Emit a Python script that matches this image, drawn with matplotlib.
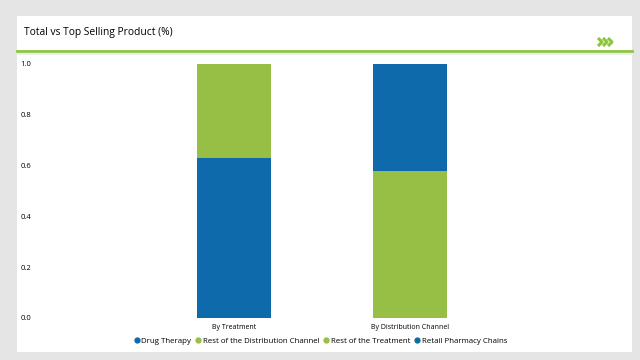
import matplotlib.pyplot as plt
from matplotlib.patches import Rectangle
from matplotlib.lines import Line2D

plt.rcParams['font.family'] = ['Open Sans', 'DejaVu Sans']

categories = ['By Treatment', 'By Distribution Channel']
series = ['Drug Therapy', 'Rest of the Distribution Channel', 'Rest of the Treatment', 'Retail Pharmacy Chains']
values = {
    'Drug Therapy': [0.63, 0.0],
    'Rest of the Distribution Channel': [0.0, 0.58],
    'Rest of the Treatment': [0.37, 0.0],
    'Retail Pharmacy Chains': [0.0, 0.42],
}
yticks = [0.0, 0.2, 0.4, 0.6, 0.8, 1.0]

blue = '#0f6aab'
green = '#98bf45'
colors = {'Drug Therapy': blue, 'Rest of the Distribution Channel': green,
          'Rest of the Treatment': green, 'Retail Pharmacy Chains': blue}

W, H = 640, 360
fig = plt.figure(figsize=(6.4, 3.6), dpi=100, facecolor='#e5e5e5')

def px(x, y, w, h):
    return (x / W, 1 - (y + h) / H, w / W, h / H)

# white card
fig.patches.append(Rectangle((17 / W, 1 - 352 / H), 615 / W, 336 / H,
                             transform=fig.transFigure, facecolor='white', edgecolor='none', zorder=-5))
# header rule
fig.add_artist(Line2D([17 / W, 632 / W], [1 - 51 / H, 1 - 51 / H], color='#8cc63f', lw=2,
                      transform=fig.transFigure))
fig.add_artist(Line2D([17 / W, 632 / W], [1 - 53.5 / H, 1 - 53.5 / H], color='#ececec', lw=1.5,
                      transform=fig.transFigure))
fig.text(24 / W, 1 - 32 / H, 'Total vs Top Selling Product (%)', fontsize=7.4, va='center', ha='left')
# chevrons
for i in range(3):
    x0 = 598 + i * 5
    fig.add_artist(Line2D([x0 / W, (x0 + 4) / W, x0 / W],
                          [1 - 38 / H, 1 - 42 / H, 1 - 46 / H],
                          color='#8cc63f', lw=2.2, transform=fig.transFigure, solid_capstyle='butt'))

ax = fig.add_axes(px(40, 64, 580, 254))
ax.set_facecolor('none')
xs = list(range(len(categories)))
bottom = [0.0] * len(categories)
for s in series:
    ax.bar(xs, values[s], 0.426, bottom=bottom, color=colors[s], label=s)
    bottom = [b + v for b, v in zip(bottom, values[s])]

ax.set_xlim((40 - 234) / 176, (620 - 234) / 176)
ax.set_ylim(0, 1)
ax.set_yticks(yticks)
ax.set_yticklabels([f'{t:.1f}' for t in yticks], fontsize=5.5, ha='left')
ax.tick_params(axis='y', length=0, pad=14)
ax.set_xticks(xs)
ax.set_xticklabels(categories, fontsize=5)
ax.tick_params(axis='x', length=0, pad=4)
for sp in ax.spines.values():
    sp.set_visible(False)

handles = [Line2D([], [], marker='o', ls='', color=colors[s], markersize=3.5) for s in series]
fig.legend(handles, series, loc='center', bbox_to_anchor=(320 / W, 1 - 341 / H), ncol=4,
           frameon=False, fontsize=5.7, handletextpad=0.05, columnspacing=0.4, handlelength=1)

fig.savefig('out.png', dpi=100, facecolor=fig.get_facecolor())
